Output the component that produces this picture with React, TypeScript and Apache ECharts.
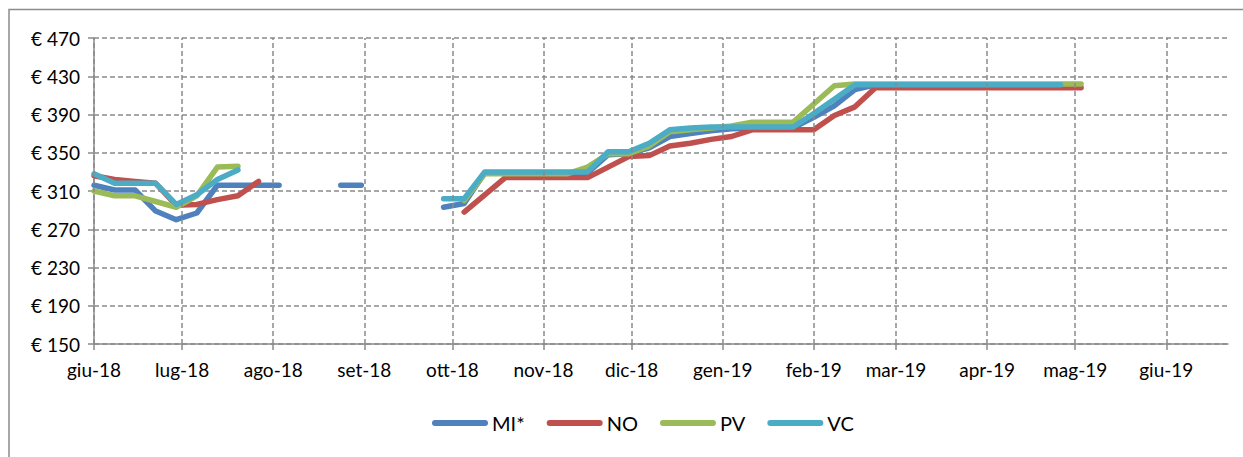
import React, { useEffect, useRef } from "react";
import * as echarts from "echarts";

const weeks = [
  "2018-06-01", "2018-06-08", "2018-06-15", "2018-06-22", "2018-06-29",
  "2018-07-06", "2018-07-13", "2018-07-20", "2018-07-27", "2018-08-03",
  "2018-08-10", "2018-08-17", "2018-08-24", "2018-08-31", "2018-09-07",
  "2018-09-14", "2018-09-21", "2018-09-28", "2018-10-05", "2018-10-12",
  "2018-10-19", "2018-10-26", "2018-11-02", "2018-11-09", "2018-11-16",
  "2018-11-23", "2018-11-30", "2018-12-07", "2018-12-14", "2018-12-21",
  "2018-12-28", "2019-01-04", "2019-01-11", "2019-01-18", "2019-01-25",
  "2019-02-01", "2019-02-08", "2019-02-15", "2019-02-22", "2019-03-01",
  "2019-03-08", "2019-03-15", "2019-03-22", "2019-03-29", "2019-04-05",
  "2019-04-12", "2019-04-19", "2019-04-26", "2019-05-03",
];

const miValues = [
  316, 311, 311, 289, 280, 287, 316, 316, 316, 316,
  null, null, 316, 316, null, null, null, 293, 297, 329,
  329, 329, 329, 329, 329, 348, 349, 355, 367, 370,
  373, 375, 376, 376, 376, 387, 399, 416, 421, 421,
  421, 421, 421, 421, 421, 421, 421, 421, null,
];
const noValues = [
  326, 322, 320, 318, 295, 296, 301, 305, 320, null,
  null, null, null, null, null, null, null, null, 288, 306,
  324, 324, 324, 324, 324, 335, 346, 347, 357, 360,
  364, 367, 374, 374, 374, 374, 389, 398, 418, 418,
  418, 418, 418, 418, 418, 418, 418, 418, 418,
];
const pvValues = [
  310, 305, 305, 299, 293, 305, 335, 336, null, null,
  null, null, null, null, null, null, null, null, 300, 328,
  328, 328, 328, 328, 335, 349, 349, 357, 372, 374,
  376, 378, 382, 382, 382, 401, 420, 422, 422, 422,
  422, 422, 422, 422, 422, 422, 422, 422, 422,
];
const vcValues = [
  328, 318, 318, 318, 296, 306, 322, 332, null, null,
  null, null, null, null, null, null, null, 302, 302, 330,
  330, 330, 330, 330, 330, 351, 351, 360, 374, 376,
  377, 377, 377, 377, 377, 391, 406, 421, 421, 421,
  421, 421, 421, 421, 421, 421, 421, 421, null,
];

const seriesNames = ["MI*", "NO", "PV", "VC"];
const seriesColors = ["#4F81BD", "#C0504D", "#9BBB59", "#4BACC6"];
const seriesValues = [miValues, noValues, pvValues, vcValues];

const monthStarts = [
  "2018-06-01", "2018-07-01", "2018-08-01", "2018-09-01", "2018-10-01",
  "2018-11-01", "2018-12-01", "2019-01-01", "2019-02-01", "2019-03-01",
  "2019-04-01", "2019-05-01", "2019-06-01",
];
const monthLabels = ["gen", "feb", "mar", "apr", "mag", "giu", "lug", "ago", "set", "ott", "nov", "dic"];
const yTicks = { min: 150, max: 470, step: 40 };
const xRange = { min: "2018-06-01", max: "2019-06-22" };

const FONT = "Lato, 'Open Sans', sans-serif";

function toTime(s: string) {
  const [y, m, d] = s.split("-").map(Number);
  return new Date(y, m - 1, d).getTime();
}

export default function App() {
  const ref = useRef<HTMLDivElement>(null);
  useEffect(() => {
    if (!ref.current) return;
    const chart = echarts.init(ref.current, null, { renderer: "svg" });
    const grid = "#8a8a8a";
    const gridSeries = {
      name: "__grid",
      type: "line",
      data: [],
      silent: true,
      z: 1,
      markLine: {
        silent: true,
        symbol: "none",
        label: { show: false },
        lineStyle: { color: grid, width: 1.5, type: [5, 3] },
        emphasis: { disabled: true },
        data: monthStarts.map((m) => ({ xAxis: toTime(m) })),
      },
    };
    const option: any = {
      animation: false,
      backgroundColor: "#ffffff",
      graphic: [
        {
          type: "rect",
          shape: { x: 9, y: 9.5, width: 1400, height: 600 },
          style: { fill: "none", stroke: "#8c8c8c", lineWidth: 1.5 },
          silent: true,
        },
      ],
      grid: { left: 94, right: 15, top: 38, bottom: 113 },
      legend: {
        left: 427,
        top: 408,
        itemWidth: 56,
        itemHeight: 6,
        itemGap: 22,
        icon: "path://M3,0 L53,0 A3,3 0 0 1 53,6 L3,6 A3,3 0 0 1 3,0 Z",
        textStyle: { fontFamily: FONT, fontSize: 20, color: "#000", padding: [0, 0, 0, -1] },
        data: seriesNames,
      },
      xAxis: {
        type: "time",
        min: toTime(xRange.min),
        max: toTime(xRange.max),
        minInterval: 28 * 86400000,
        maxInterval: 31 * 86400000,
        axisLine: { show: true, lineStyle: { color: grid, width: 1.5 } },
        axisTick: { show: true, length: 6, lineStyle: { color: grid, width: 1.5 } },
        splitLine: { show: false },
        axisLabel: {
          showMaxLabel: false,
          margin: 16,
          color: "#000",
          fontFamily: FONT,
          fontSize: 19,
          formatter: (v: number) => {
            const d = new Date(v);
            return monthLabels[d.getMonth()] + "-" + String(d.getFullYear()).slice(2);
          },
        },
      },
      yAxis: {
        type: "value",
        min: yTicks.min,
        max: yTicks.max,
        interval: yTicks.step,
        axisLine: { show: true, lineStyle: { color: grid, width: 1.5 } },
        axisTick: { show: true, length: 6, lineStyle: { color: grid, width: 1.5 } },
        splitLine: { show: true, lineStyle: { color: grid, width: 1.5, type: [5, 3] } },
        axisLabel: {
          margin: 14,
          color: "#000",
          fontFamily: FONT,
          fontSize: 19,
          formatter: (v: number) => "€ " + v,
        },
      },
      series: [
        gridSeries,
        ...seriesNames.map((name, i) => ({
          name,
          type: "line",
          showSymbol: false,
          symbol: "none",
          z: 3,
          color: seriesColors[i],
          lineStyle: { width: 5.5, color: seriesColors[i], cap: "round", join: "round" },
          data: weeks.map((w, k) => [toTime(w), seriesValues[i][k] == null ? "-" : seriesValues[i][k]]),
        })),
      ],
    };
    chart.setOption(option);
    return () => chart.dispose();
  }, []);
  return (
    <div
      ref={ref}
      style={{ position: "fixed", left: 0, top: 0, width: 1243, height: 457 }}
    />
  );
}
